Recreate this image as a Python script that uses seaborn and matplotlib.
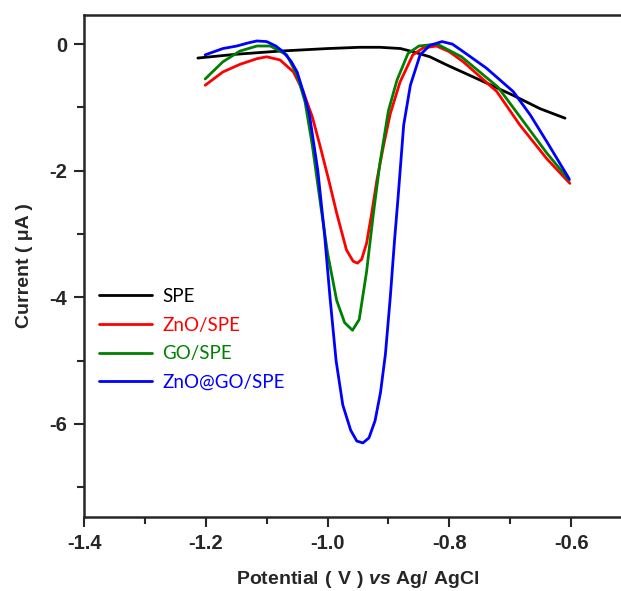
import matplotlib
matplotlib.use('Agg')
import matplotlib.pyplot as plt
import pandas as pd
import seaborn as sns
from matplotlib.ticker import MultipleLocator

# values
spe_x = [-1.213, -1.15, -1.078, -1.0, -0.947, -0.914, -0.88, -0.86, -0.832, -0.804, -0.749, -0.695, -0.651, -0.61]
spe_y = [-0.22, -0.16, -0.11, -0.07, -0.05, -0.05, -0.07, -0.12, -0.2, -0.33, -0.57, -0.81, -1.02, -1.17]

zno_x = [-1.201, -1.172, -1.144, -1.116, -1.1, -1.078, -1.056, -1.04, -1.025, -1.012, -0.998, -0.985,
         -0.969, -0.958, -0.951, -0.944, -0.936, -0.928, -0.919, -0.908, -0.897, -0.881, -0.86, -0.843,
         -0.821, -0.8, -0.777, -0.722, -0.684, -0.64, -0.602]
zno_y = [-0.65, -0.44, -0.32, -0.23, -0.2, -0.25, -0.44, -0.75, -1.15, -1.62, -2.15, -2.67,
         -3.25, -3.43, -3.46, -3.4, -3.15, -2.7, -2.15, -1.6, -1.1, -0.6, -0.17, -0.06,
         -0.03, -0.12, -0.28, -0.75, -1.28, -1.81, -2.2]

go_x = [-1.201, -1.172, -1.144, -1.116, -1.094, -1.067, -1.05, -1.037, -1.025, -1.012, -1.0, -0.985,
        -0.972, -0.959, -0.948, -0.936, -0.925, -0.914, -0.9, -0.886, -0.868, -0.85, -0.82, -0.78,
        -0.72, -0.68, -0.64, -0.603]
go_y = [-0.55, -0.28, -0.11, -0.03, -0.03, -0.17, -0.49, -0.91, -1.6, -2.5, -3.3, -4.05,
        -4.4, -4.52, -4.35, -3.6, -2.7, -1.88, -1.05, -0.57, -0.15, -0.03, 0.0, -0.2,
        -0.68, -1.2, -1.72, -2.15]

zgo_x = [-1.201, -1.172, -1.149, -1.13, -1.116, -1.1, -1.085, -1.073, -1.06, -1.05, -1.04, -1.03,
         -1.016, -1.005, -0.996, -0.986, -0.975, -0.962, -0.952, -0.942, -0.932, -0.922, -0.913,
         -0.905, -0.897, -0.89, -0.884, -0.875, -0.864, -0.848, -0.832, -0.812, -0.795, -0.777,
         -0.739, -0.695, -0.667, -0.64, -0.603]
zgo_y = [-0.17, -0.07, -0.03, 0.02, 0.05, 0.04, -0.03, -0.12, -0.27, -0.44, -0.75, -1.1,
         -2.0, -3.0, -4.0, -5.0, -5.7, -6.1, -6.27, -6.3, -6.22, -5.95, -5.5,
         -4.9, -4.0, -3.1, -2.4, -1.28, -0.65, -0.17, -0.02, 0.04, 0.0, -0.12,
         -0.38, -0.75, -1.12, -1.54, -2.13]

names = ['SPE', 'ZnO/SPE', 'GO/SPE', 'ZnO@GO/SPE']
colors = ['#000000', '#ff0000', '#008000', '#0000ff']

frames = []
for name, xs, ys in zip(names, [spe_x, zno_x, go_x, zgo_x], [spe_y, zno_y, go_y, zgo_y]):
    frames.append(pd.DataFrame({'Potential': xs, 'Current': ys, 'Electrode': name}))
df = pd.concat(frames, ignore_index=True)

sns.set_style('ticks')
plt.rcParams['font.family'] = ['Liberation Sans', 'DejaVu Sans']
plt.rcParams['mathtext.fontset'] = 'custom'
plt.rcParams['mathtext.bf'] = 'Liberation Sans:bold'
plt.rcParams['mathtext.bfit'] = 'Liberation Sans:bold:italic'

fig = plt.figure(figsize=(6.21, 5.91), dpi=100)
ax = fig.add_axes([84 / 621, 1 - 517 / 591, 548 / 621, 502 / 591])

sns.lineplot(data=df, x='Potential', y='Current', hue='Electrode', palette=colors,
             sort=False, estimator=None, units='Electrode', lw=2.0, ax=ax, legend=True)

ax.set_xlim(-1.4, -0.5)
ax.set_ylim(-7.47, 0.46)
ax.xaxis.set_minor_locator(MultipleLocator(0.1))
ax.yaxis.set_minor_locator(MultipleLocator(1))
ax.set_xticks([-1.4, -1.2, -1.0, -0.8, -0.6])
ax.set_xticklabels(['-1.4', '-1.2', '-1.0', '-0.8', '-0.6'])
ax.set_yticks([0, -2, -4, -6])
ax.set_yticklabels(['0', '-2', '-4', '-6'])
ax.tick_params(which='major', direction='out', length=7, width=1.5, labelsize=14.5)
ax.tick_params(axis='x', which='major', pad=5)
ax.tick_params(axis='y', which='major', pad=5)
ax.tick_params(which='minor', direction='out', length=5, width=1.5)
for lab in ax.get_xticklabels() + ax.get_yticklabels():
    lab.set_fontweight('bold')
for s in ax.spines.values():
    s.set_linewidth(1.8)

ax.set_xlabel(r'$\mathbf{Potential\ (\ V\ )}$ $\mathbfit{vs}$ $\mathbf{Ag/\ AgCl}$', fontsize=14, labelpad=12)
ax.set_ylabel('Current ( μA )', fontsize=14, fontweight='bold', labelpad=12)

leg = ax.legend(loc='upper left', bbox_to_anchor=(-0.003, 0.49), frameon=False,
                handlelength=2.8, handletextpad=0.55, labelspacing=0.62,
                prop={'family': 'Lato', 'size': 13.5})
for txt, c in zip(leg.get_texts(), colors):
    txt.set_color(c)
for line in leg.get_lines():
    line.set_linewidth(2.0)

fig.savefig('out.png', dpi=100)
